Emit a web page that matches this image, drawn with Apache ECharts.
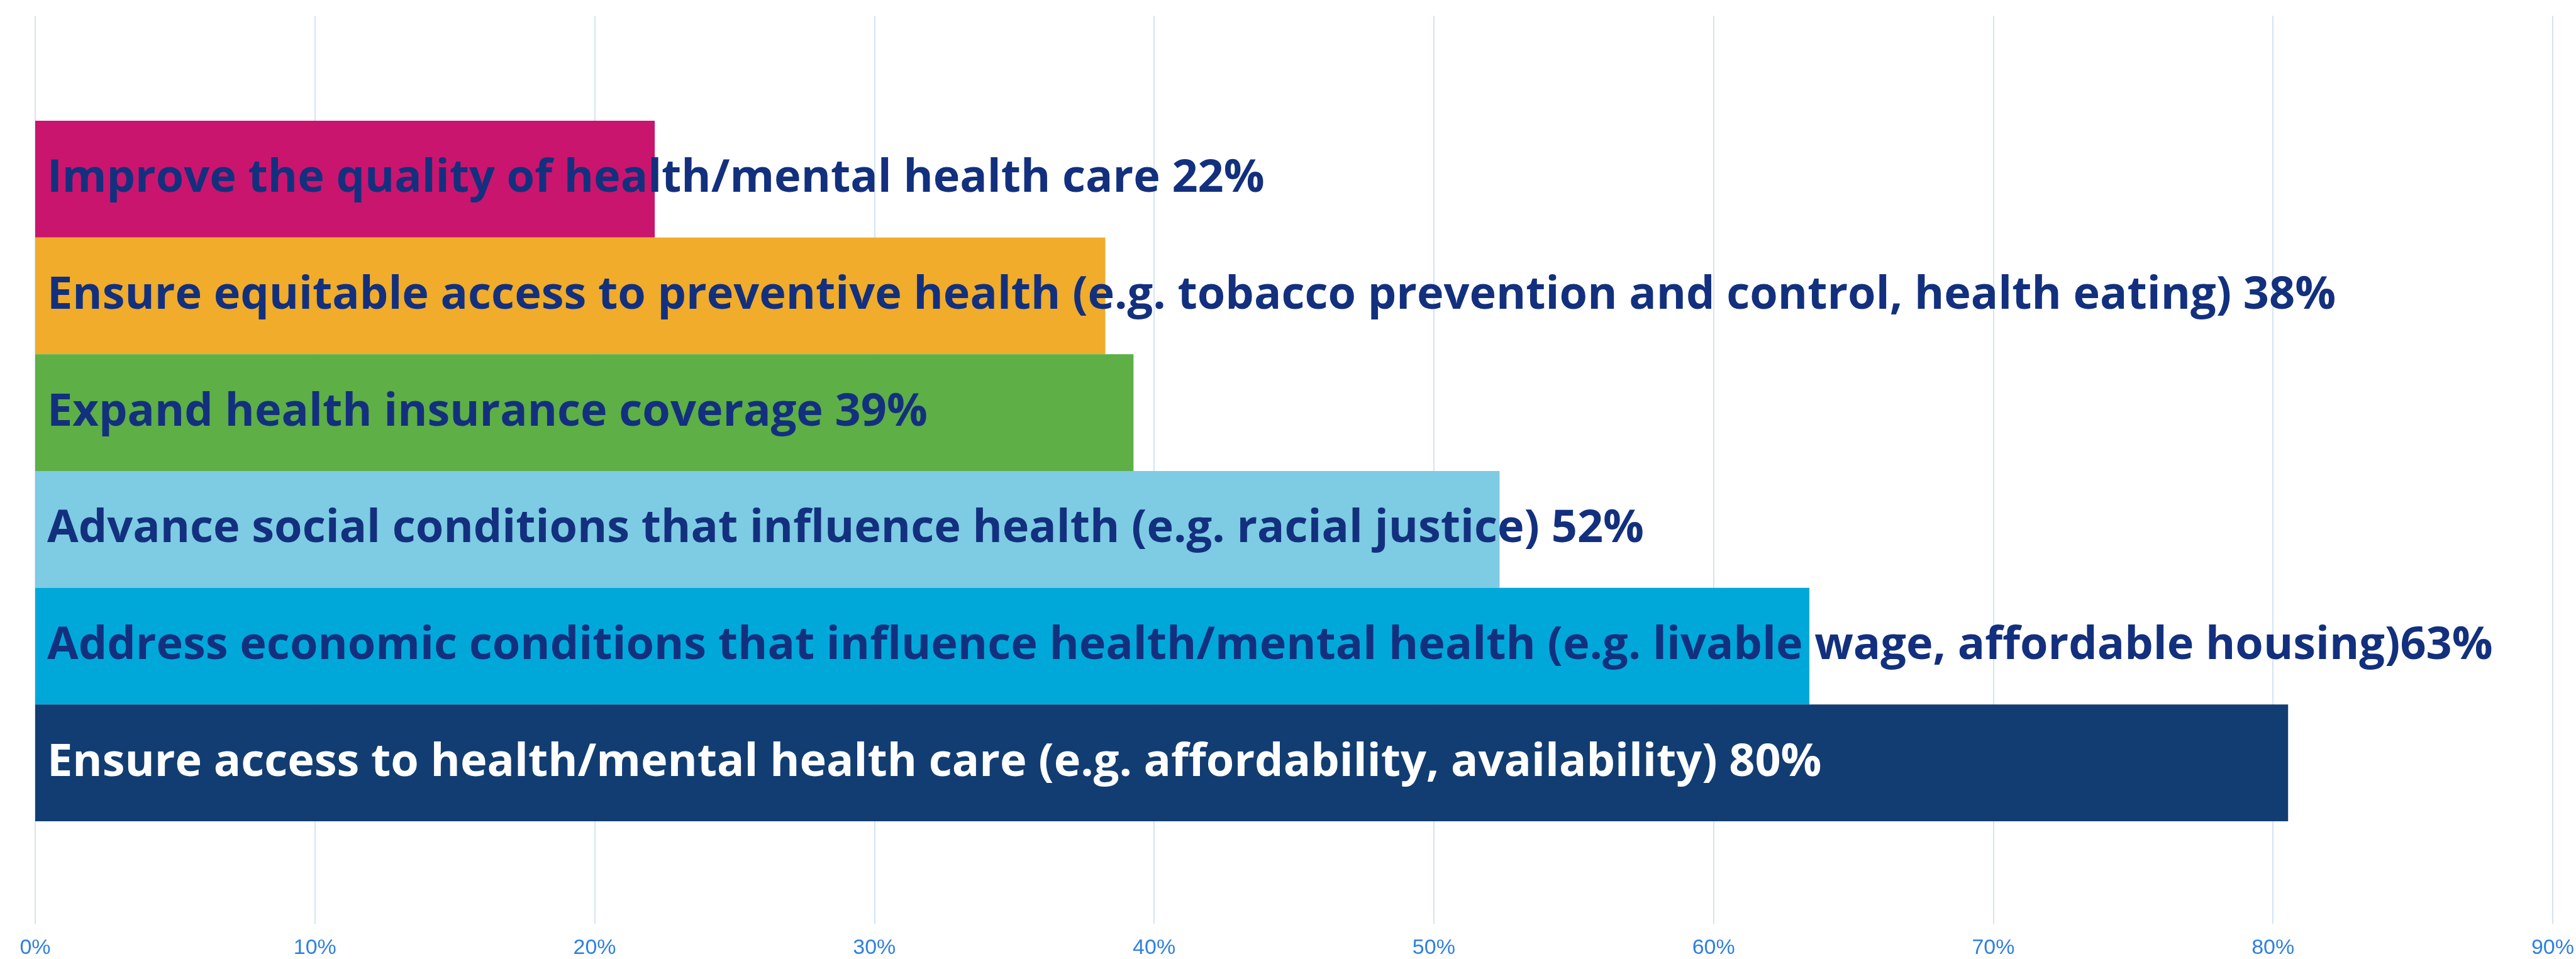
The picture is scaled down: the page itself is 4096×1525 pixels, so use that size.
<!DOCTYPE html>
<html>
<head>
<meta charset="utf-8">
<script src="https://cdn.jsdelivr.net/npm/echarts@6/dist/echarts.min.js"></script>
<style>
  html, body { margin: 0; padding: 0; background: #fff; }
  #main { width: 4096px; height: 1525px; }
</style>
</head>
<body>
<div id="main"></div>
<script>
  // top to bottom
  var categories = [
    'Improve the quality of health/mental health care',
    'Ensure equitable access to preventive health (e.g. tobacco prevention and control, health eating)',
    'Expand health insurance coverage',
    'Advance social conditions that influence health (e.g. racial justice)',
    'Address economic conditions that influence health/mental health (e.g. livable wage, affordable housing)',
    'Ensure access to health/mental health care (e.g. affordability, availability)'
  ];
  var values = [22, 38, 39, 52, 63, 80];
  var separators = [' ', ' ', ' ', ' ', '', ' '];
  var barColors = ['#c9156e', '#f0ac2a', '#5daf46', '#7ecbe4', '#00a8da', '#123d72'];
  var labelColors = ['#13307e', '#13307e', '#13307e', '#13307e', '#13307e', '#ffffff'];

  var chart = echarts.init(document.getElementById('main'));

  var option = {
    animation: false,
    grid: [
      { left: 56, right: 10, top: 25, bottom: 51 },
      { left: 56, right: 10, top: 192, bottom: 219 }
    ],
    xAxis: [
      {
        gridIndex: 0,
        type: 'value',
        min: 0,
        max: 90,
        interval: 10,
        axisLine: { show: false },
        axisTick: { show: false },
        splitLine: { show: true, lineStyle: { color: '#d3e4f5', width: 2 } },
        axisLabel: {
          formatter: '{value}%',
          color: '#2f80e0',
          fontFamily: 'Liberation Sans',
          fontSize: 34,
          margin: 22
        }
      },
      {
        gridIndex: 1,
        type: 'value',
        min: 0,
        max: 90,
        show: false
      }
    ],
    yAxis: [
      {
        gridIndex: 0,
        type: 'value',
        show: false
      },
      {
        gridIndex: 1,
        type: 'category',
        inverse: true,
        data: categories,
        show: false
      }
    ],
    series: [
      {
        type: 'bar',
        xAxisIndex: 1,
        yAxisIndex: 1,
        barCategoryGap: 0,
        barWidth: '100%',
        data: values.map(function (v, i) {
          return {
            value: v,
            itemStyle: { color: barColors[i] },
            label: {
              show: true,
              position: 'insideLeft',
              distance: 19,
              color: labelColors[i],
              fontFamily: 'Open Sans',
              fontWeight: 'bold',
              fontSize: 72,
              formatter: categories[i] + separators[i] + v + '%'
            }
          };
        })
      }
    ]
  };

  chart.setOption(option);
</script>
</body>
</html>
